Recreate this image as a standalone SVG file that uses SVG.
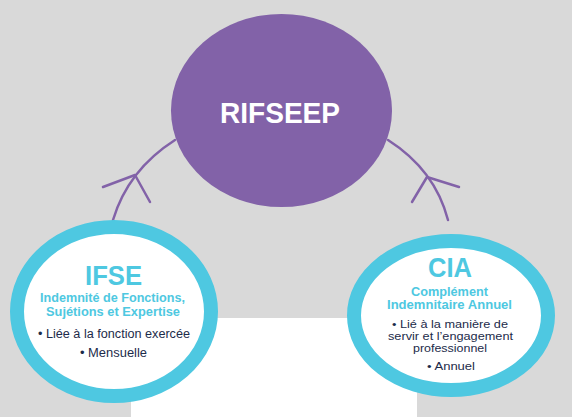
<svg xmlns="http://www.w3.org/2000/svg" width="572" height="417" viewBox="0 0 572 417">
<defs>
<style>
.bg{fill:#d9d9d9}
.ring{fill:#ffffff;stroke:#4ec8e1;stroke-width:14}
.hub{fill:#8262a8}
.conn{fill:none;stroke:#8262a8;stroke-width:2.5;stroke-linecap:round;stroke-linejoin:round}
.t{font-family:"Liberation Sans",Arial,sans-serif;text-anchor:middle}
.big{font-weight:bold;font-size:28px;fill:#4ec8e1}
.sub{font-weight:bold;font-size:13px;fill:#4ec8e1}
.sub2{font-weight:bold;font-size:12px;fill:#4ec8e1}
.body{font-size:12px;fill:#1c2b4a}
.body2{font-size:11px;fill:#1c2b4a}
.hubt{font-weight:bold;font-size:30px;fill:#ffffff}
</style>
</defs>
<rect class="bg" x="0" y="0" width="572" height="417"/>
<rect x="131" y="318" width="286" height="99" fill="#ffffff"/>
<g id="connectors">
<path class="conn" d="M175,140 Q128,170 113,220"/>
<path class="conn" d="M103,187 L135,175 L150,202"/>
<path class="conn" d="M388,140 Q435,170 448,220"/>
<path class="conn" d="M459,187 L427,177 L412,202"/>
</g>
<g id="rifseep">
<ellipse class="hub" cx="281.5" cy="110.5" rx="110.5" ry="96.5"/>
<text class="t hubt" x="280" y="123" textLength="120" lengthAdjust="spacingAndGlyphs">RIFSEEP</text>
</g>
<g id="ifse">
<ellipse class="ring" cx="114" cy="311.5" rx="97" ry="84.5"/>
<text class="t big" x="113.5" y="285" textLength="57" lengthAdjust="spacingAndGlyphs">IFSE</text>
<text class="t sub" x="112.5" y="302" textLength="145" lengthAdjust="spacingAndGlyphs">Indemnité de Fonctions,</text>
<text class="t sub" x="113" y="316" textLength="134" lengthAdjust="spacingAndGlyphs">Sujétions et Expertise</text>
<text class="t body" x="114" y="338" textLength="152" lengthAdjust="spacingAndGlyphs">• Liée à la fonction exercée</text>
<text class="t body" x="113.5" y="357" textLength="67" lengthAdjust="spacingAndGlyphs">• Mensuelle</text>
</g>
<g id="cia">
<ellipse class="ring" cx="451" cy="315.5" rx="97" ry="74.5"/>
<text class="t big" x="450" y="277" textLength="44" lengthAdjust="spacingAndGlyphs">CIA</text>
<text class="t sub2" x="449.5" y="296" textLength="77" lengthAdjust="spacingAndGlyphs">Complément</text>
<text class="t sub2" x="449.5" y="309" textLength="125" lengthAdjust="spacingAndGlyphs">Indemnitaire Annuel</text>
<text class="t body2" x="450" y="328" textLength="116" lengthAdjust="spacingAndGlyphs">• Lié à la manière de</text>
<text class="t body2" x="450.5" y="340" textLength="125" lengthAdjust="spacingAndGlyphs">servir et l’engagement</text>
<text class="t body2" x="450" y="352" textLength="74" lengthAdjust="spacingAndGlyphs">professionnel</text>
<text class="t body2" x="451" y="370" textLength="48" lengthAdjust="spacingAndGlyphs">• Annuel</text>
</g>
</svg>
